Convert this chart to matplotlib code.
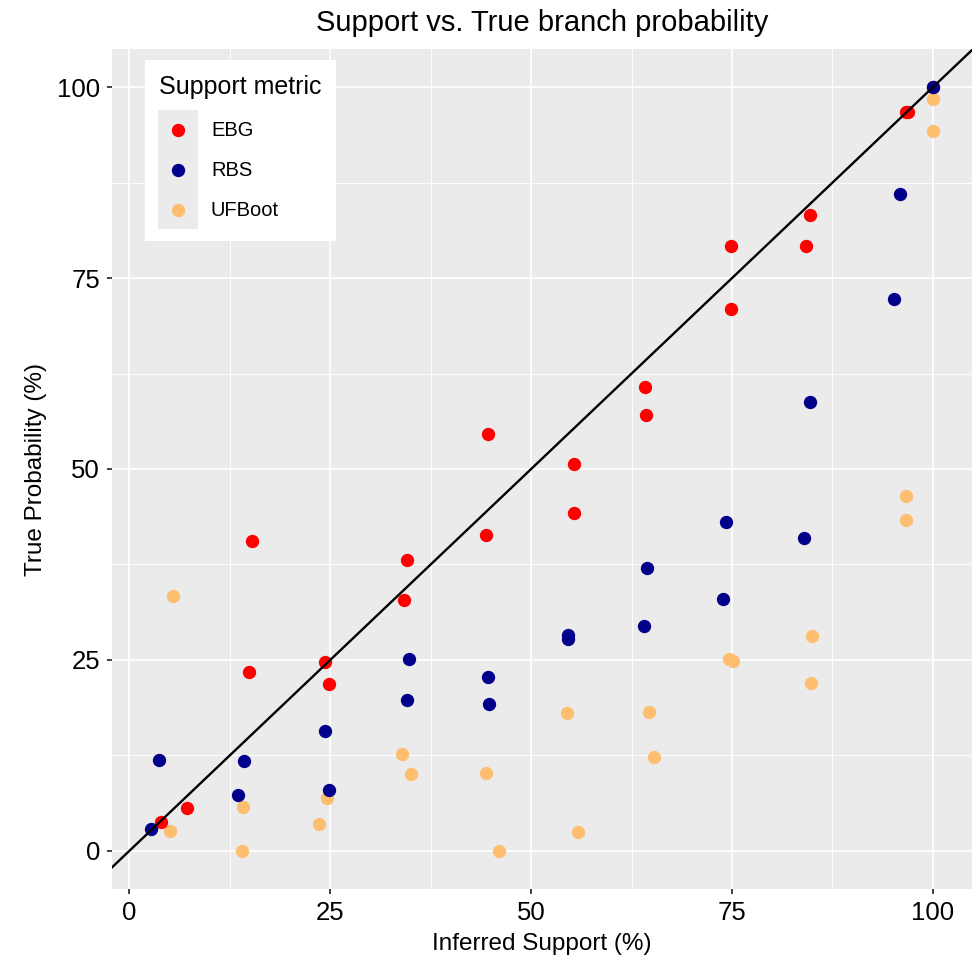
import numpy as np
import matplotlib
matplotlib.use("Agg")
import matplotlib.pyplot as plt
from matplotlib.patches import Rectangle
from matplotlib.lines import Line2D

plt.rcParams['font.family'] = ['Liberation Sans', 'DejaVu Sans']

# values
ebg_x = [3.9, 7.2, 14.9, 15.2, 24.3, 24.8, 34.2, 34.5, 44.4, 44.6, 55.3, 55.3,
         64.3, 64.2, 74.9, 74.9, 84.2, 84.7, 96.6, 96.9, 100]
ebg_y = [3.8, 5.6, 23.4, 40.6, 24.7, 21.9, 32.8, 38.1, 41.4, 54.6, 44.2, 50.7,
         57.1, 60.7, 71.0, 79.2, 79.2, 83.3, 96.7, 96.7, 100]

rbs_x = [2.7, 3.7, 13.5, 14.3, 24.4, 24.9, 34.6, 34.8, 44.6, 44.7, 54.6, 54.6,
         64.0, 64.4, 73.9, 74.2, 83.9, 84.7, 95.2, 95.9, 100]
rbs_y = [2.9, 11.9, 7.3, 11.7, 15.7, 7.9, 19.7, 25.1, 22.8, 19.2, 28.2, 27.7,
         29.5, 37.0, 33.0, 43.1, 41.0, 58.8, 72.2, 86.0, 100]

ufb_x = [5.0, 5.4, 14.0, 14.1, 23.6, 24.6, 33.9, 35.1, 44.4, 46.0, 54.5, 55.8,
         64.7, 65.3, 74.6, 75.1, 84.8, 85.0, 96.6, 96.6, 100, 100]
ufb_y = [2.6, 33.4, 0.0, 5.8, 3.5, 6.9, 12.7, 10.0, 10.2, 0.0, 18.1, 2.4,
         18.2, 12.3, 25.1, 24.8, 22.0, 28.1, 46.4, 43.3, 98.4, 94.2]

metrics = ['EBG', 'RBS', 'UFBoot']
colors = ['#FF0000', '#00008B', '#FDBF6F']
ticks = [0, 25, 50, 75, 100]

fig = plt.figure(figsize=(9.77, 9.6), dpi=100)
ax = fig.add_axes([112 / 977, 1 - 889 / 960, 860 / 977, 840 / 960])
ax.set_facecolor('#EBEBEB')
for s in ax.spines.values():
    s.set_visible(False)

ax.set_xlim(2.7 - 0.05 * 97.3, 100 + 0.05 * 97.3)
ax.set_ylim(-5, 105)
ax.set_xticks(ticks)
ax.set_yticks(ticks)
ax.set_xticks([12.5, 37.5, 62.5, 87.5], minor=True)
ax.set_yticks([12.5, 37.5, 62.5, 87.5], minor=True)
ax.grid(which='major', color='white', lw=1.25)
ax.grid(which='minor', color='white', lw=0.65)
ax.set_axisbelow(True)
ax.tick_params(which='major', length=3.6, width=1.3, color='#333333',
               labelsize=18.5, labelcolor='black', pad=5)
ax.tick_params(which='minor', length=0)

ax.scatter(ufb_x, ufb_y, s=92, color=colors[2], linewidths=0, zorder=3)
ax.scatter(ebg_x, ebg_y, s=92, color=colors[0], linewidths=0, zorder=3)
ax.scatter(rbs_x, rbs_y, s=92, color=colors[1], linewidths=0, zorder=3)
ax.axline((0, 0), slope=1, color='black', lw=1.7, zorder=4)

ax.set_xlabel('Inferred Support (%)', fontsize=17.5, labelpad=6)
ax.set_ylabel('True Probability (%)', fontsize=17.5, labelpad=7)
ax.set_title('Support vs. True branch probability', fontsize=21, pad=13)

# legend drawn by hand (ggplot style with grey keys)
def fx(px):
    return px / 977

def fy(py):
    return 1 - py / 960

fig.patches.append(Rectangle((fx(145), fy(241)), fx(191), 181 / 960,
                             transform=fig.transFigure, facecolor='white',
                             edgecolor='none', zorder=5))
fig.patches.append(Rectangle((fx(158), fy(229)), fx(40), 119 / 960,
                             transform=fig.transFigure, facecolor='#EBEBEB',
                             edgecolor='none', zorder=6))
fig.text(fx(159), fy(87), 'Support metric', fontsize=18, va='center',
         ha='left', zorder=7)
for i, (name, c) in enumerate(zip(metrics, colors)):
    yc = 130 + 40 * i
    fig.lines.append(Line2D([fx(178)], [fy(yc)], marker='o', markersize=9.6,
                            markerfacecolor=c, markeredgewidth=0,
                            transform=fig.transFigure, zorder=7))
    fig.text(fx(211), fy(yc), name, fontsize=14.5, va='center', ha='left',
             zorder=7)

fig.savefig('out.png', dpi=100)
